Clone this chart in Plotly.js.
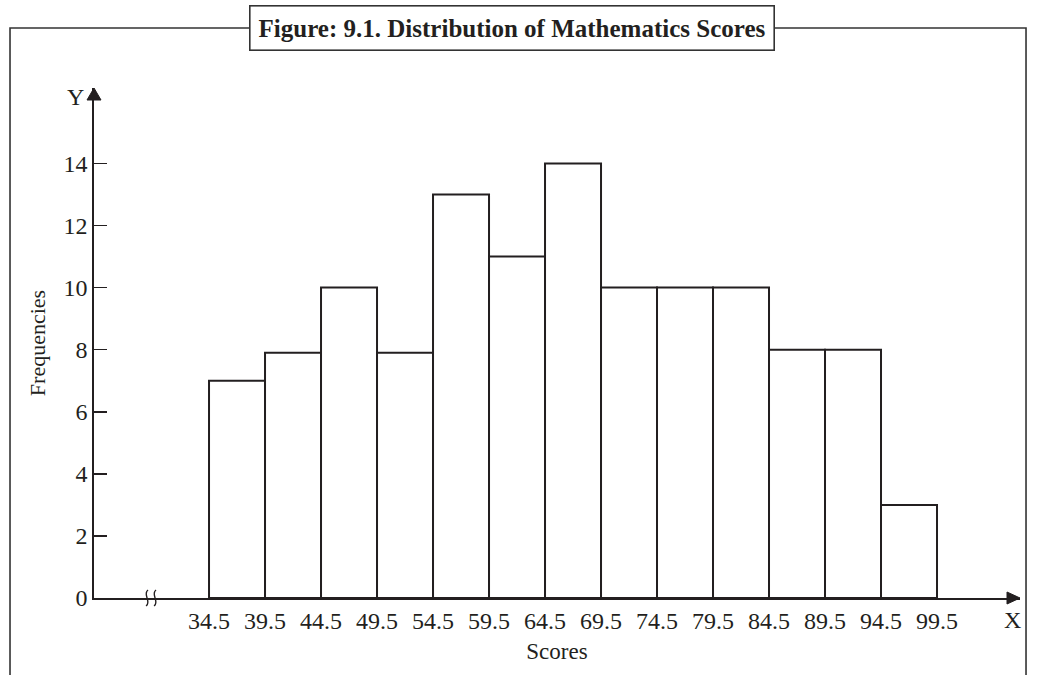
<!DOCTYPE html>
<html>
<head>
<meta charset="utf-8">
<script src="https://cdn.plot.ly/plotly-3.0.1.min.js"></script>
<style>html,body{margin:0;padding:0;background:#fff;}#chart{width:1037px;height:675px;}</style>
</head>
<body>
<div id="chart"></div>
<script>
// Data
const binStarts = [34.5, 39.5, 44.5, 49.5, 54.5, 59.5, 64.5, 69.5, 74.5, 79.5, 84.5, 89.5, 94.5];
const frequencies = [7, 7.9, 10, 7.9, 13, 11, 14, 10, 10, 10, 8, 8, 3];
const binWidth = 5;
const xTickVals = [34.5, 39.5, 44.5, 49.5, 54.5, 59.5, 64.5, 69.5, 74.5, 79.5, 84.5, 89.5, 94.5, 99.5];
const xTickText = ["34.5", "39.5", "44.5", "49.5", "54.5", "59.5", "64.5", "69.5", "74.5", "79.5", "84.5", "89.5", "94.5", "99.5"];
const yTickVals = [0, 2, 4, 6, 8, 10, 12, 14];
const titleText = "Figure: 9.1. Distribution of Mathematics Scores";
const xTitle = "Scores";
const yTitle = "Frequencies";

const ink = '#231f20';
const FONT = 'Liberation Serif, Times New Roman, serif';

const xRange = [24.23, 106.91];
const yRange = [0, 16.43];

const trace = {
  type: 'bar',
  x: binStarts,
  y: frequencies,
  width: binStarts.map(() => binWidth),
  offset: 0,
  marker: {color: '#ffffff', line: {color: ink, width: 2}},
  hoverinfo: 'x+y'
};

const layout = {
  width: 1037, height: 675,
  margin: {l: 94, r: 17, t: 88, b: 77},
  paper_bgcolor: '#fff', plot_bgcolor: '#fff',
  showlegend: false,
  font: {family: FONT, color: ink, size: 24},
  xaxis: {
    range: xRange, showgrid: false, zeroline: false,
    showline: true, linecolor: ink, linewidth: 1.8,
    ticks: '', tickmode: 'array', tickvals: xTickVals, ticktext: xTickText,
    tickfont: {family: FONT, size: 24, color: ink},
    title: {text: xTitle, font: {family: FONT, size: 23, color: ink}, standoff: 10},
    fixedrange: true
  },
  yaxis: {
    range: yRange, showgrid: false, zeroline: false,
    showline: true, linecolor: ink, linewidth: 1.8,
    ticks: 'inside', ticklen: 13, tickwidth: 1.5, tickcolor: ink,
    tickmode: 'array', tickvals: yTickVals,
    tickfont: {family: FONT, size: 24, color: ink},
    title: {text: yTitle, font: {family: FONT, size: 22, color: ink}, standoff: 12},
    fixedrange: true
  },
  shapes: [
    // outer frame
    {type: 'path', xref: 'paper', yref: 'paper',
     path: 'M -0.0907 -0.2 L -0.0907 1.1176 L 1.0065 1.1176 L 1.0065 -0.2',
     line: {color: '#333', width: 1.6}, layer: 'above'},
    // x arrow head
    {type: 'path', xref: 'paper', yref: 'paper', xsizemode: 'pixel', ysizemode: 'pixel',
     xanchor: 1, yanchor: 0,
     path: 'M 0 0 L -13 6 L -13 -6 Z', fillcolor: ink, line: {color: ink, width: 1}, layer: 'above'},
    // y arrow head
    {type: 'path', xref: 'paper', yref: 'paper', xsizemode: 'pixel', ysizemode: 'pixel',
     xanchor: 0, yanchor: 1,
     path: 'M 0 0 L -7 -12 L 7 -12 Z', fillcolor: ink, line: {color: ink, width: 1}, layer: 'above'},
    // axis break
    {type: 'path', xref: 'paper', yref: 'paper', xsizemode: 'pixel', ysizemode: 'pixel',
     xanchor: 0.0616, yanchor: 0,
     path: 'M -3 8 C -9 4, 1 -4, -5 -8', line: {color: ink, width: 1.4}, layer: 'above'},
    {type: 'path', xref: 'paper', yref: 'paper', xsizemode: 'pixel', ysizemode: 'pixel',
     xanchor: 0.0616, yanchor: 0,
     path: 'M 5 8 C -1 4, 9 -4, 3 -8', line: {color: ink, width: 1.4}, layer: 'above'}
  ],
  annotations: [
    {text: '<b>' + titleText + '</b>', xref: 'paper', yref: 'paper', x: 0.4514, y: 1.1176,
     xanchor: 'center', yanchor: 'middle', showarrow: false,
     bgcolor: '#fff', bordercolor: '#333', borderwidth: 1.6, borderpad: 8,
     font: {family: FONT, size: 25, color: ink}},
    {text: 'Y', xref: 'paper', yref: 'paper', x: -0.0205, y: 0.982,
     xanchor: 'center', yanchor: 'middle', showarrow: false,
     font: {family: FONT, size: 24, color: ink}},
    {text: 'X', xref: 'paper', yref: 'paper', x: 0.9924, y: -0.043,
     xanchor: 'center', yanchor: 'middle', showarrow: false,
     font: {family: FONT, size: 24, color: ink}}
  ]
};

Plotly.newPlot('chart', [trace], layout, {displayModeBar: false, staticPlot: true});
</script>
</body>
</html>
